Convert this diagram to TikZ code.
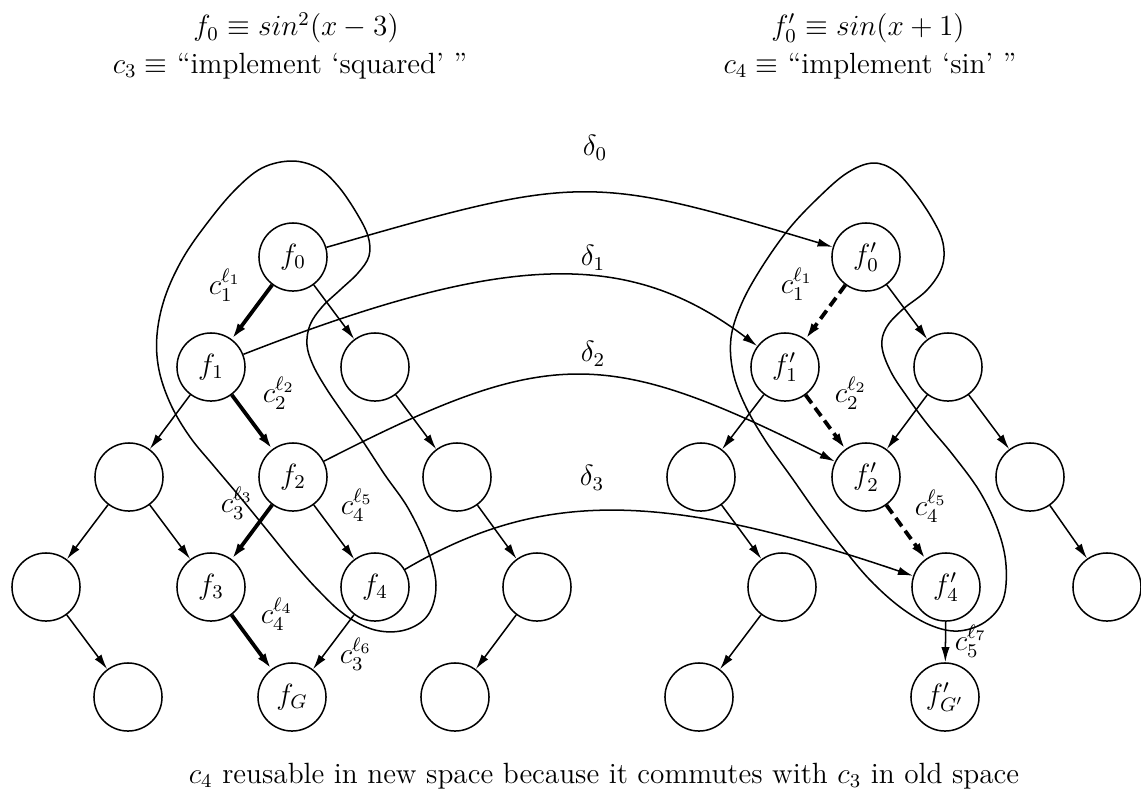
\documentclass[tikz,border=0pt,12pt]{standalone}
\usetikzlibrary{arrows.meta}
\begin{document}
\begin{tikzpicture}[x=0.41pt,y=-0.41pt,
  nd/.style={circle,draw,line width=0.62pt,minimum size=27.9pt,inner sep=0pt},
  ed/.style={-{Latex[length=6.2pt,width=3.4pt]},line width=0.62pt},
  thk/.style={-{Latex[length=6.6pt,width=3.8pt]},line width=1.55pt},
  dsh/.style={thk,dash pattern=on 4.2pt off 2.3pt},
  reg/.style={line width=0.62pt},
  lab/.style={inner sep=0pt}]
\useasboundingbox (0,0) rectangle (1141,795);

% texts
\node[lab] (t1) at (296,28) {$f_0 \equiv sin^2(x-3)$};
\node[lab] (t2) at (290,66) {$c_3 \equiv$ ``implement `squared' ''};
\node[lab] (t3) at (868,28) {$f'_0 \equiv sin(x+1)$};
\node[lab] (t4) at (870,66) {$c_4 \equiv$ ``implement `sin' ''};
\node[lab] (t5) at (604,776) {$c_4$ reusable in new space because it commutes with $c_3$ in old space};

% left tree
\node[nd] (a0)  at (293,257) {$f_0$};
\node[nd] (a1)  at (211,367) {$f_1$};
\node[nd] (a1r) at (375,367) {};
\node[nd] (a2l) at (129,477) {};
\node[nd] (a2)  at (293,477) {$f_2$};
\node[nd] (a2r) at (457,477) {};
\node[nd] (a3l) at (46,587) {};
\node[nd] (a3)  at (211,587) {$f_3$};
\node[nd] (a4)  at (375,587) {$f_4$};
\node[nd] (a3r) at (537,587) {};
\node[nd] (a4l) at (128,697) {};
\node[nd] (aG)  at (292,697) {$f_G$};
\node[nd] (a4r) at (455,697) {};

% right tree
\node[nd] (b0)  at (866,257) {$f'_0$};
\node[nd] (b1)  at (785,367) {$f'_1$};
\node[nd] (b1r) at (948,367) {};
\node[nd] (b2l) at (701,477) {};
\node[nd] (b2)  at (866,477) {$f'_2$};
\node[nd] (b2r) at (1030,477) {};
\node[nd] (b3l) at (782,587) {};
\node[nd] (b4)  at (946,587) {$f'_4$};
\node[nd] (b3r) at (1107,587) {};
\node[nd] (b4l) at (699,697) {};
\node[nd] (bG)  at (945,697) {$f'_{G'}$};

% left edges
\draw[thk] (a0) -- (a1);
\draw[ed] (a0) -- (a1r);
\draw[ed] (a1) -- (a2l);
\draw[thk] (a1) -- (a2);
\draw[ed] (a1r) -- (a2r);
\draw[ed] (a2l) -- (a3l);
\draw[ed] (a2l) -- (a3);
\draw[thk] (a2) -- (a3);
\draw[ed] (a2) -- (a4);
\draw[ed] (a2r) -- (a3r);
\draw[ed] (a3l) -- (a4l);
\draw[thk] (a3) -- (aG);
\draw[ed] (a4) -- (aG);
\draw[ed] (a3r) -- (a4r);

% right edges
\draw[dsh] (b0) -- (b1);
\draw[ed] (b0) -- (b1r);
\draw[ed] (b1) -- (b2l);
\draw[dsh] (b1) -- (b2);
\draw[ed] (b1r) -- (b2);
\draw[ed] (b1r) -- (b2r);
\draw[ed] (b2l) -- (b3l);
\draw[dsh] (b2) -- (b4);
\draw[ed] (b2r) -- (b3r);
\draw[ed] (b3l) -- (b4l);
\draw[ed] (b4) -- (bG);

% edge labels
\node[lab] at (225,285) {$c_1^{\ell_1}$};
\node[lab] at (279,393) {$c_2^{\ell_2}$};
\node[lab] at (237,503) {$c_3^{\ell_3}$};
\node[lab] at (357,505) {$c_4^{\ell_5}$};
\node[lab] at (277,614) {$c_4^{\ell_4}$};
\node[lab] at (356,654) {$c_3^{\ell_6}$};
\node[lab] at (797,284) {$c_1^{\ell_1}$};
\node[lab] at (851,393) {$c_2^{\ell_2}$};
\node[lab] at (931,506) {$c_4^{\ell_5}$};
\node[lab] at (971,641) {$c_5^{\ell_7}$};

% delta maps
\draw[ed] (a0) .. controls (580,174) and (590,174) .. (b0);
\draw[ed] (a1) .. controls (510,250) and (630,250) .. (b1);
\draw[ed] (a2) .. controls (549,346) and (604,346) .. (b2);
\draw[ed] (a4) .. controls (540,490) and (660,490) .. (b4);
\node[lab] (d0) at (595,148) {$\delta_0$};
\node[lab] (d1) at (593,258) {$\delta_1$};
\node[lab] (d2) at (593,354) {$\delta_2$};
\node[lab] (d3) at (592,478) {$\delta_3$};

% regions
\draw[reg] plot[smooth cycle, tension=0.6] coordinates {
 (292,161) (318,168) (338,186) (356,212) (368,236) (369,256) (358,273)
 (340,290) (322,307) (310,325) (307,345) (313,365) (326,388) (343,413)
 (362,440) (385,475) (408,508) (427,548) (436,585) (428,615) (405,630)
 (375,630) (345,615) (318,590) (293,562) (267,530) (240,497) (213,465)
 (190,437) (171,405) (159,370) (157,335) (165,297) (183,258) (208,222)
 (235,190) (262,168)};
\draw[reg] plot[smooth cycle, tension=0.6] coordinates {
 (873,163) (895,171) (915,193) (933,220) (943,243) (942,267) (927,290)
 (902,310) (886,328) (882,347) (891,372) (908,398) (928,425) (953,455)
 (980,492) (998,530) (1006,565) (1003,600) (985,622) (958,631) (930,625)
 (900,607) (870,580) (843,548) (818,515) (792,478) (765,440) (745,405)
 (733,372) (731,338) (741,305) (760,270) (788,230) (818,198) (847,173)};
\end{tikzpicture}
\end{document}
